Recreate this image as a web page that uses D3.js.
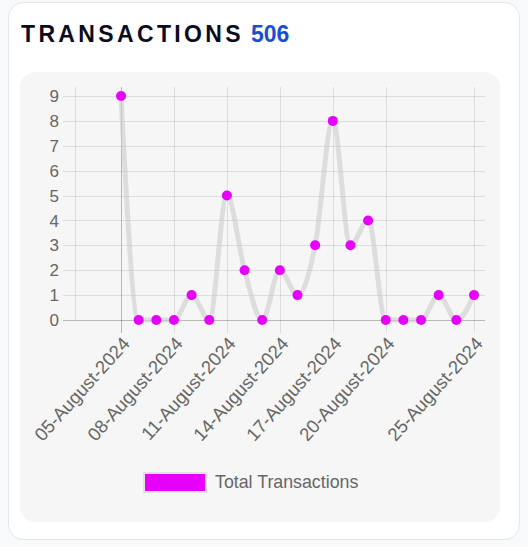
<!DOCTYPE html>
<html><head><meta charset="utf-8">
<script src="https://cdn.jsdelivr.net/npm/d3@7"></script>
<style>
html,body{margin:0;padding:0;background:#f8f9fa;}
svg{display:block;}
</style></head>
<body>
<script>
const categories = ["05-August-2024","06-August-2024","07-August-2024","08-August-2024","09-August-2024","10-August-2024","11-August-2024","12-August-2024","13-August-2024","14-August-2024","15-August-2024","16-August-2024","17-August-2024","18-August-2024","19-August-2024","20-August-2024","21-August-2024","22-August-2024","23-August-2024","24-August-2024","25-August-2024"];
const values = [9,0,0,0,1,0,5,2,0,2,1,3,8,3,4,0,0,0,1,0,1];
const shownTicks = ["05-August-2024","08-August-2024","11-August-2024","14-August-2024","17-August-2024","20-August-2024","25-August-2024"];
const yTicks = [0,1,2,3,4,5,6,7,8,9];
const seriesName = "Total Transactions";
const titleText = "TRANSACTIONS";
const totalText = "506";

(function(){
const W = 528, H = 547;
const svg = d3.select("body").append("svg").attr("width", W).attr("height", H);

svg.append("rect").attr("x", 8.5).attr("y", 2.5).attr("width", 511).attr("height", 537)
  .attr("rx", 15).attr("fill", "#fff").attr("stroke", "#e6e6e6");
svg.append("rect").attr("x", 20).attr("y", 72).attr("width", 480).attr("height", 450)
  .attr("rx", 15).attr("fill", "#f6f6f6");

const t = svg.append("text").attr("x", 21).attr("y", 42)
  .attr("font-family", "Liberation Sans, Arial, sans-serif").attr("font-weight", "bold").attr("font-size", 23);
t.append("tspan").attr("fill", "#0b0b1e").attr("letter-spacing", "3.35px").text(titleText);
t.append("tspan").attr("fill", "#1a4fd3").attr("dx", 7).text(totalText);

const pLeft = 75, pRight = 485, pTop = 87, pBottom = 320;
const x = d3.scalePoint().domain(categories).range([121, 474]);
const y = d3.scaleLinear().domain([0, 9]).range([pBottom, 96]);

const g = svg.append("g");
g.selectAll(".hg").data(yTicks).join("line")
  .attr("x1", 63).attr("x2", pRight).attr("y1", d => Math.round(y(d)) + 0.5).attr("y2", d => Math.round(y(d)) + 0.5)
  .attr("stroke", d => d === 0 ? "rgba(0,0,0,0.25)" : "rgba(0,0,0,0.1)");
g.append("line").attr("x1", pLeft + 0.5).attr("x2", pLeft + 0.5).attr("y1", pTop).attr("y2", pBottom)
  .attr("stroke", "rgba(0,0,0,0.1)");
g.selectAll(".vg").data(shownTicks).join("line")
  .attr("x1", d => Math.round(x(d)) + 0.5).attr("x2", d => Math.round(x(d)) + 0.5)
  .attr("y1", pTop).attr("y2", pBottom + 13)
  .attr("stroke", (d, i) => i === 0 ? "rgba(0,0,0,0.25)" : "rgba(0,0,0,0.1)");

g.selectAll(".yl").data(yTicks).join("text")
  .attr("x", 59).attr("y", d => y(d)).attr("dy", "0.36em").attr("text-anchor", "end")
  .attr("font-family", "Liberation Sans, Arial, sans-serif").attr("font-size", 17).attr("fill", "#666")
  .text(d => d);

g.selectAll(".xl").data(shownTicks).join("text")
  .attr("transform", d => `translate(${x(d) + 5},${pBottom + 20}) rotate(-48)`)
  .attr("text-anchor", "end").attr("dy", "0.35em")
  .attr("font-family", "Liberation Sans, Arial, sans-serif").attr("font-size", 18.5).attr("fill", "#666")
  .text(d => d);

const line = d3.line().x((d, i) => x(categories[i])).y(d => y(d)).curve(d3.curveMonotoneX);
g.append("path").datum(values).attr("d", line).attr("fill", "none")
  .attr("stroke", "rgba(205,205,205,0.6)").attr("stroke-width", 5);

g.selectAll(".pt").data(values).join("circle")
  .attr("cx", (d, i) => x(categories[i])).attr("cy", d => y(d)).attr("r", 5)
  .attr("fill", "#e600ff");

svg.append("rect").attr("x", 144).attr("y", 473).attr("width", 62).attr("height", 19)
  .attr("fill", "#e600f7").attr("stroke", "#e2e2e2").attr("stroke-width", 2);
svg.append("text").attr("x", 215).attr("y", 482).attr("dy", "0.36em")
  .attr("font-family", "Liberation Sans, Arial, sans-serif").attr("font-size", 17.8).attr("fill", "#666")
  .text(seriesName);
})();
</script>
</body></html>
